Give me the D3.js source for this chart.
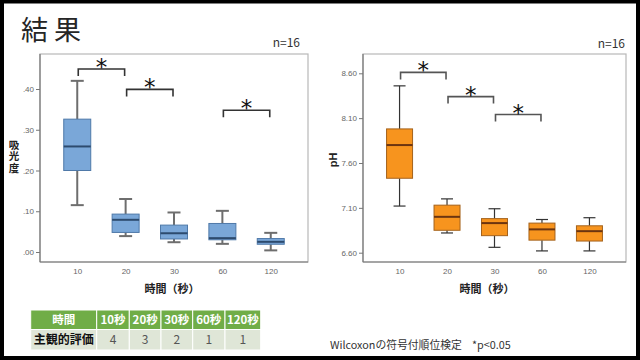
<!DOCTYPE html>
<html><head><meta charset="utf-8">
<script src="https://cdn.jsdelivr.net/npm/d3@7"></script>
<style>
html,body{margin:0;padding:0;background:#fff;}
svg{display:block;}
</style></head>
<body>
<svg id="c" width="640" height="360"></svg>
<script>
// ---- data ----
const categories = ["10","20","30","60","120"];
// absorbance boxplot stats [low whisker, Q1, median, Q3, high whisker]
const absLow    = [0.115, 0.039, 0.024, 0.020, 0.004];
const absQ1     = [0.200, 0.048, 0.032, 0.030, 0.019];
const absMedian = [0.259, 0.079, 0.046, 0.034, 0.025];
const absQ3     = [0.326, 0.093, 0.066, 0.070, 0.033];
const absHigh   = [0.420, 0.130, 0.097, 0.101, 0.047];
const absTicks  = [0, 0.1, 0.2, 0.3, 0.4];
// pH boxplot stats
const phLow    = [7.12, 6.82, 6.66, 6.62, 6.62];
const phQ1     = [7.43, 6.85, 6.79, 6.74, 6.73];
const phMedian = [7.80, 7.00, 6.93, 6.86, 6.84];
const phQ3     = [7.98, 7.13, 6.98, 6.93, 6.90];
const phHigh   = [8.46, 7.20, 7.09, 6.97, 6.99];
const phTicks  = [6.6, 7.1, 7.6, 8.1, 8.6];
// significance brackets [from, to, level]
const absSig = [["10","20",0.449],["20","30",0.399],["60","120",0.348]];
const phSig  = [["10","20",8.61],["20","30",8.34],["30","60",8.14]];
// table
const tableHeader = ["時間","10秒","20秒","30秒","60秒","120秒"];
const tableRow    = ["主観的評価","4","3","2","1","1"];

const svg = d3.select("#c");
const JP = "'Noto Sans CJK JP','Noto Sans',sans-serif";
const LAT = "'Liberation Sans',Arial,sans-serif";

// slide border
svg.append("rect").attr("x",2).attr("y",1.5).attr("width",636).attr("height",356.5)
  .attr("fill","none").attr("stroke","#000").attr("stroke-width",4);

// title
svg.append("text").attr("x",21).attr("y",40).attr("font-family",JP).attr("font-size",27)
  .attr("fill","#262626").text("結 果");

function panel(o){
  const g = svg.append("g");
  const x = d3.scalePoint().domain(categories).range([o.left,o.right]).padding(0.77);
  const y = d3.scaleLinear().domain(o.domain).range(o.yrange);
  // frame
  g.append("rect").attr("x",o.left).attr("y",o.top).attr("width",o.right-o.left).attr("height",o.bottom-o.top)
    .attr("fill","none").attr("stroke","#b8b8b8").attr("stroke-width",1.2);
  g.append("line").attr("x1",o.left).attr("x2",o.left).attr("y1",o.top).attr("y2",o.bottom).attr("stroke","#777").attr("stroke-width",1.2);
  g.append("line").attr("x1",o.left).attr("x2",o.right).attr("y1",o.bottom).attr("y2",o.bottom).attr("stroke","#777").attr("stroke-width",1.2);
  // y axis
  const ya = d3.axisLeft(y).tickValues(o.ticks).tickFormat(o.fmt).tickSize(4).tickPadding(2);
  const yg = g.append("g").attr("transform",`translate(${o.left},0)`).call(ya);
  yg.select(".domain").remove();
  yg.selectAll("line").attr("stroke","#777");
  yg.selectAll("text").attr("font-family",LAT).attr("font-size",8).attr("fill","#666");
  // x axis
  const xa = d3.axisBottom(x).tickSize(0).tickPadding(6);
  const xg = g.append("g").attr("transform",`translate(0,${o.bottom})`).call(xa);
  xg.select(".domain").remove();
  xg.selectAll("text").attr("font-family",LAT).attr("font-size",8).attr("fill","#666");
  // boxes
  const bw = o.bw, cw = o.cw;
  categories.forEach((c,i)=>{
    const cx = x(c);
    g.append("line").attr("x1",cx).attr("x2",cx).attr("y1",y(o.high[i])).attr("y2",y(o.q3[i])).attr("stroke",o.wc).attr("stroke-width",o.ww);
    g.append("line").attr("x1",cx).attr("x2",cx).attr("y1",y(o.low[i])).attr("y2",y(o.q1[i])).attr("stroke",o.wc).attr("stroke-width",o.ww);
    g.append("line").attr("x1",cx-cw/2).attr("x2",cx+cw/2).attr("y1",y(o.high[i])).attr("y2",y(o.high[i])).attr("stroke",o.wc).attr("stroke-width",o.ww);
    g.append("line").attr("x1",cx-cw/2).attr("x2",cx+cw/2).attr("y1",y(o.low[i])).attr("y2",y(o.low[i])).attr("stroke",o.wc).attr("stroke-width",o.ww);
    g.append("rect").attr("x",cx-bw/2).attr("y",y(o.q3[i])).attr("width",bw).attr("height",y(o.q1[i])-y(o.q3[i]))
      .attr("fill",o.fill).attr("stroke",o.stroke).attr("stroke-width",1);
    g.append("line").attr("x1",cx-bw/2).attr("x2",cx+bw/2).attr("y1",y(o.med[i])).attr("y2",y(o.med[i])).attr("stroke",o.mc).attr("stroke-width",2);
  });
  // brackets
  o.sig.forEach(s=>{
    const x1 = x(s[0])+1, x2 = x(s[1])-1, yy = y(s[2]);
    g.append("path").attr("d",`M${x1},${yy+7}V${yy}H${x2}V${yy+7}`).attr("fill","none")
      .attr("stroke",o.bc).attr("stroke-width",1.6);
    g.append("text").attr("x",(x1+x2)/2).attr("y",yy+6).attr("text-anchor","middle")
      .attr("font-family","'DejaVu Sans',sans-serif").attr("font-size",23).attr("fill","#111").text("*");
  });
  // axis title
  g.append("text").attr("x",o.xtx).attr("y",o.bottom+31).attr("text-anchor","middle").attr("font-family",JP)
    .attr("font-weight","bold").attr("font-size",11).attr("fill","#222").text("時間（秒）");
  // n=16
  g.append("text").attr("x",o.nx).attr("y",o.ny).attr("text-anchor","end").attr("font-family",JP)
    .attr("font-size",12).attr("fill","#333").text("n=16");
  return {g,x,y};
}

panel({left:40,right:308,top:54,bottom:262,domain:[0,0.4],yrange:[252,89],ticks:absTicks,
  fmt:d=>d3.format(".2f")(d).replace(/^0/,""),low:absLow,q1:absQ1,med:absMedian,q3:absQ3,high:absHigh,
  fill:"#7aa7d8",stroke:"#4f79a8",mc:"#2d4b6e",wc:"#6e6e6e",ww:2,bw:27,cw:13,sig:absSig,bc:"#333",xtx:172,nx:300,ny:47});
panel({left:363,right:626,top:54,bottom:262,domain:[6.6,8.6],yrange:[252.7,73.3],ticks:phTicks,
  fmt:d3.format(".2f"),low:phLow,q1:phQ1,med:phMedian,q3:phQ3,high:phHigh,
  fill:"#f7941e",stroke:"#a4621c",mc:"#6b3410",wc:"#333",ww:1.2,bw:26,cw:12,sig:phSig,bc:"#555",xtx:487,nx:625,ny:48});

// y axis titles
svg.append("text").attr("x",14).attr("y",157).attr("text-anchor","middle")
  .style("writing-mode","vertical-rl").style("text-orientation","upright")
  .attr("font-family",JP).attr("font-weight","bold").attr("font-size",10.5).attr("letter-spacing",1)
  .attr("fill","#222").text("吸光度");
svg.append("text").attr("transform","translate(337,160) rotate(-90)").attr("text-anchor","middle")
  .attr("font-family",LAT).attr("font-weight","bold").attr("font-size",11).attr("fill","#222").text("pH");

// table
const colEdges = [30.7,96.7,129.3,161,192.7,225,260.7];
const rowTop = [310,329.5], rowH = [19.5,20.5];
const tg = svg.append("g");
tableHeader.forEach((t,i)=>{
  tg.append("rect").attr("x",colEdges[i]).attr("y",rowTop[0]).attr("width",colEdges[i+1]-colEdges[i]).attr("height",rowH[0])
    .attr("fill","#70ad47").attr("stroke","#fff").attr("stroke-width",1);
  tg.append("text").attr("x",(colEdges[i]+colEdges[i+1])/2).attr("y",rowTop[0]+14.2).attr("text-anchor","middle")
    .attr("font-family",JP).attr("font-weight","bold").attr("font-size",11.5).attr("fill","#fff").text(t);
});
tableRow.forEach((t,i)=>{
  tg.append("rect").attr("x",colEdges[i]).attr("y",rowTop[1]).attr("width",colEdges[i+1]-colEdges[i]).attr("height",rowH[1])
    .attr("fill","#dfe6d7").attr("stroke","#fff").attr("stroke-width",1);
  tg.append("text").attr("x",(colEdges[i]+colEdges[i+1])/2).attr("y",rowTop[1]+14.8).attr("text-anchor","middle")
    .attr("font-family",JP).attr("font-weight",i===0?"bold":"normal").attr("font-size",12)
    .attr("fill",i===0?"#111":"#555").text(t);
});

// footnote
svg.append("text").attr("x",330).attr("y",349).attr("font-family",JP).attr("font-size",10.8).attr("fill","#333")
  .text("Wilcoxonの符号付順位検定");
svg.append("text").attr("x",472).attr("y",349).attr("font-family",JP).attr("font-size",10.8).attr("fill","#333")
  .text("*p<0.05");
</script>
</body></html>
